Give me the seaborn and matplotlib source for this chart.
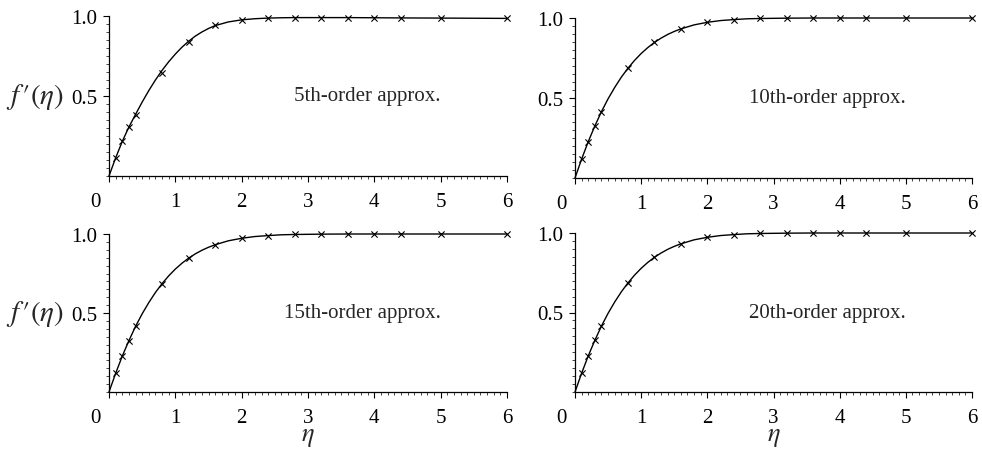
import matplotlib
matplotlib.use("Agg")
import matplotlib.pyplot as plt
import matplotlib.transforms as mtransforms
from matplotlib.ticker import MultipleLocator, FixedLocator
import seaborn as sns

# curve
eta_line = [0, 0.1, 0.2, 0.3, 0.4, 0.5, 0.6, 0.7, 0.8, 0.9, 1.0, 1.1, 1.2, 1.3, 1.4,
            1.5, 1.6, 1.8, 2.0, 2.2, 2.4, 2.6, 2.8, 3.0, 3.2, 3.6, 4.0, 4.4, 5.0, 6.0]
f_line_5 = [0, 0.113, 0.216, 0.306, 0.385, 0.462, 0.534, 0.600, 0.660, 0.714, 0.762,
            0.805, 0.842, 0.874, 0.90, 0.922, 0.94, 0.963, 0.976, 0.983, 0.987, 0.989,
            0.990, 0.990, 0.990, 0.990, 0.989, 0.988, 0.987, 0.985]
f_line = [0, 0.118, 0.227, 0.325, 0.415, 0.495, 0.566, 0.630, 0.686, 0.735, 0.778,
          0.815, 0.847, 0.874, 0.897, 0.916, 0.932, 0.957, 0.973, 0.984, 0.990, 0.995,
          0.997, 0.998, 0.999, 1.0, 1.0, 1.0, 1.0, 1.0]

# approximation points (x marks)
eta_mark = [0.1, 0.2, 0.3, 0.4, 0.8, 1.2, 1.6, 2.0, 2.4, 2.8, 3.2, 3.6, 4.0, 4.4, 5.0, 6.0]
f_mark_5 = [0.115, 0.218, 0.306, 0.381, 0.644, 0.84, 0.944, 0.975, 0.987, 0.990,
            0.990, 0.990, 0.989, 0.988, 0.987, 0.985]
f_mark_10 = [0.118, 0.227, 0.325, 0.415, 0.686, 0.847, 0.932, 0.973, 0.990, 0.997,
             0.999, 1.0, 1.0, 1.0, 1.0, 1.0]
f_mark_15 = [0.118, 0.227, 0.325, 0.415, 0.686, 0.847, 0.932, 0.973, 0.990, 0.997,
             0.999, 1.0, 1.0, 1.0, 1.0, 1.0]
f_mark_20 = [0.118, 0.227, 0.325, 0.415, 0.686, 0.847, 0.932, 0.973, 0.990, 0.997,
             0.999, 1.0, 1.0, 1.0, 1.0, 1.0]

labels = ["5th-order approx.", "10th-order approx.", "15th-order approx.", "20th-order approx."]
x_ticks = [0, 1, 2, 3, 4, 5, 6]
y_ticks = [0.5, 1.0]

sns.set_style("ticks")
plt.rcParams["font.family"] = ["Liberation Serif", "DejaVu Serif"]
plt.rcParams["mathtext.fontset"] = "stix"

fig = plt.figure(figsize=(9.82, 4.52), dpi=100)
W, H = 982.0, 452.0
boxes = [(109, 17, 398, 160), (575, 19, 397, 160),
         (109, 235, 398, 158), (575, 234, 397, 159)]

panels = [(f_line_5, f_mark_5), (f_line, f_mark_10), (f_line, f_mark_15), (f_line, f_mark_20)]

for i, ((x0, y0, w, h), (fl, fm)) in enumerate(zip(boxes, panels)):
    ax = fig.add_axes([x0 / W, 1 - (y0 + h) / H, w / W, h / H])
    sns.lineplot(x=eta_line, y=fl, color="black", linewidth=1.0, ax=ax, clip_on=False)
    sns.scatterplot(x=eta_mark, y=fm, marker="x", color="black", s=20,
                    linewidth=0.8, ax=ax, zorder=3, clip_on=False)
    ax.set_xlim(0, 6)
    ax.set_ylim(0, 1.0)
    ax.xaxis.set_major_locator(FixedLocator(x_ticks))
    ax.yaxis.set_major_locator(FixedLocator(y_ticks))
    ax.xaxis.set_minor_locator(MultipleLocator(0.1))
    ax.yaxis.set_minor_locator(MultipleLocator(0.05))
    ax.set_xticklabels([str(t) for t in x_ticks])
    ax.set_yticklabels(["0.5", "1.0"])
    ax.tick_params(axis="both", which="major", direction="out", length=4.5, width=0.8,
                   labelsize=15, colors="black")
    ax.tick_params(axis="both", which="minor", direction="out", length=2.5, width=0.6)
    ax.tick_params(axis="x", which="major", pad=7)
    ax.tick_params(axis="y", which="major", pad=4)
    for sp in ["top", "right"]:
        ax.spines[sp].set_visible(False)
    for sp in ["left", "bottom"]:
        ax.spines[sp].set_color("black")
        ax.spines[sp].set_linewidth(0.9)
    # shift the "0" label to the left, as in the source figure
    lab0 = ax.get_xticklabels()[0]
    lab0.set_transform(lab0.get_transform() + mtransforms.ScaledTranslation(-14 / 100, 0, fig.dpi_scale_trans))
    ax.text(5.0, 0.5, labels[i], ha="right", va="center", fontsize=15)
    if i % 2 == 0:
        ax.text(-0.185, 0.5, r"$f\,\prime(\eta)$", transform=ax.transAxes,
                ha="center", va="center", fontsize=21)
    if i >= 2:
        ax.set_xlabel(r"$\eta$", fontsize=19, labelpad=-1)

fig.savefig("out.png", dpi=100)
